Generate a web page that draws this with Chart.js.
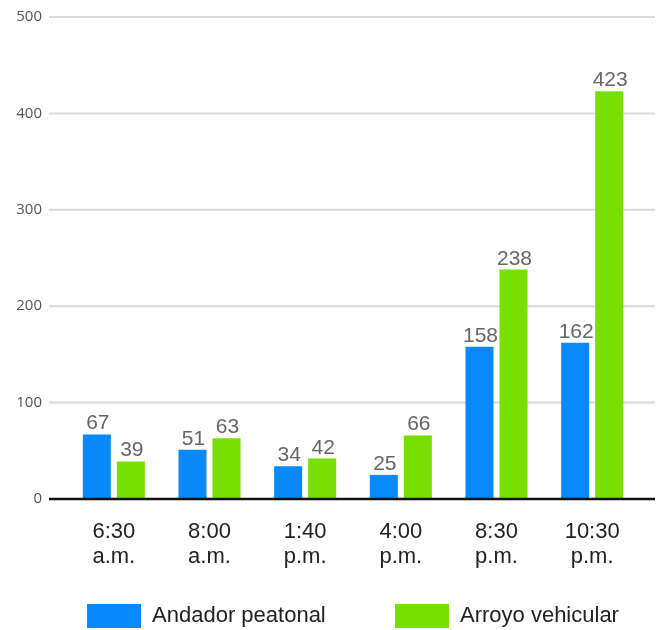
<!DOCTYPE html>
<html>
<head>
<meta charset="UTF-8">
<title>Andador vs Arroyo</title>
<script src="https://cdn.jsdelivr.net/npm/chart.js@4.4.0/dist/chart.umd.min.js"></script>
<style>
  body { margin: 0; background: #fff; }
</style>
</head>
<body>
<canvas id="chart" width="662" height="630"></canvas>

<script>
  // data
  const horas = [['6:30', 'a.m.'], ['8:00', 'a.m.'], ['1:40', 'p.m.'], ['4:00', 'p.m.'], ['8:30', 'p.m.'], ['10:30', 'p.m.']]
  const andador = [67, 51, 34, 25, 158, 162]
  const arroyo = [39, 63, 42, 66, 238, 423]
  const yTicks = [0, 100, 200, 300, 400, 500]

  const azul = '#0a89fb'
  const verde = '#78e000'
  const fuente = '"Liberation Sans", Arial, sans-serif'

  // grid lines reach wider than the bar area, so draw them by hand from the y scale
  const rejilla = {
    id: 'rejilla',
    beforeDatasetsDraw(chart) {
      const y = chart.scales.y, ctx = chart.ctx
      ctx.save()
      ctx.strokeStyle = '#dadada'
      ctx.lineWidth = 2
      yTicks.forEach(function (v) {
        if (v === 0) return
        const py = y.getPixelForValue(v)
        ctx.beginPath()
        ctx.moveTo(49, py)
        ctx.lineTo(655, py)
        ctx.stroke()
      })
      ctx.restore()
    },
    afterDatasetsDraw(chart) {
      const y = chart.scales.y, ctx = chart.ctx
      ctx.save()
      // zero line
      ctx.strokeStyle = '#111'
      ctx.lineWidth = 2.5
      const p0 = y.getPixelForValue(0)
      ctx.beginPath()
      ctx.moveTo(49, p0)
      ctx.lineTo(655, p0)
      ctx.stroke()
      // value labels on top of the bars
      ctx.font = '21px ' + fuente
      ctx.fillStyle = '#666'
      ctx.textAlign = 'center'
      ctx.textBaseline = 'alphabetic'
      chart.data.datasets.forEach(function (ds, i) {
        chart.getDatasetMeta(i).data.forEach(function (bar, j) {
          ctx.fillText(ds.data[j], bar.x + 1, bar.y - 5)
        })
      })
      ctx.restore()
    },
    beforeInit(chart) {
      // thin legend strip at the very bottom
      const fit = chart.legend.fit
      chart.legend.fit = function () {
        fit.call(this)
        this.height = 28
      }
    }
  }

  const ctx = document.querySelector('#chart').getContext('2d')
  const chart = new Chart(ctx, {
    type: 'bar',
    data: {
      labels: horas,
      datasets: [
        {
          label: 'Andador peatonal' + '           ',
          data: andador,
          backgroundColor: azul,
          categoryPercentage: 0.711,
          barPercentage: 0.824
        },
        {
          label: 'Arroyo vehicular',
          data: arroyo,
          backgroundColor: verde,
          categoryPercentage: 0.711,
          barPercentage: 0.824
        }
      ]
    },
    options: {
      responsive: false,
      devicePixelRatio: 1,
      animation: false,
      layout: { padding: { top: 17, right: 22, left: 0, bottom: 0 } },
      scales: {
        x: {
          grid: { display: false },
          border: { display: false },
          ticks: {
            color: '#222',
            padding: 12,
            maxRotation: 0,
            font: { family: fuente, size: 22, lineHeight: 1.14 }
          },
          afterFit(scale) { scale.height = 103 }
        },
        y: {
          min: 0,
          max: 500,
          grid: { display: false },
          border: { display: false },
          ticks: {
            stepSize: 100,
            color: '#555',
            padding: 16,
            font: { family: '"Open Sans", sans-serif', size: 15 }
          },
          afterFit(scale) {
            scale.width = 66
            scale.paddingTop = 0
            scale.paddingBottom = 0
          }
        }
      },
      plugins: {
        legend: {
          position: 'bottom',
          fullSize: false,
          labels: {
            boxWidth: 54,
            boxHeight: 24,
            padding: 2,
            color: '#222',
            font: { family: fuente, size: 22 }
          }
        },
        tooltip: { enabled: false }
      }
    },
    plugins: [rejilla]
  })
</script>
</body>
</html>
